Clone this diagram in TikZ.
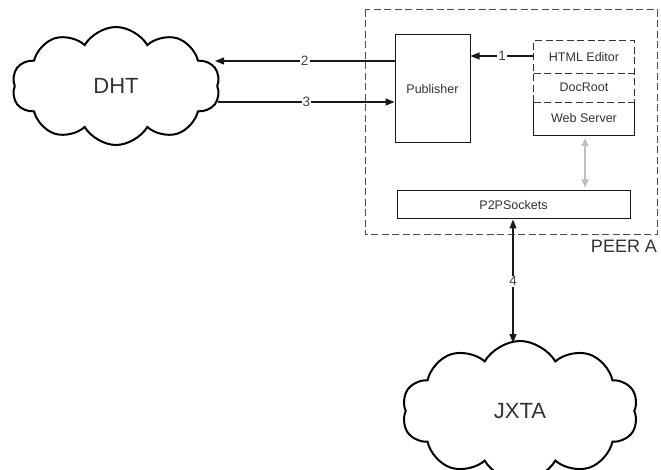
\documentclass[tikz,border=0pt]{standalone}
\usepackage{fontspec}
\setmainfont{Liberation Sans}
\usetikzlibrary{shapes.symbols,arrows.meta}
\begin{document}
\begin{tikzpicture}[x=1pt,y=-1pt,
  box/.style={draw=black!90, line width=1pt, inner sep=0pt, font=\fontsize{12.5}{14}\selectfont, text=black!80},
  plain/.style={inner sep=0pt, font=\fontsize{12.5}{14}\selectfont, text=black!80},
  cloudy/.style={cloud, cloud puffs=10, cloud puff arc=120, draw=black, line width=2pt, inner sep=0pt, font=\fontsize{22}{24}\selectfont, text=black!80},
  conn/.style={line width=1.3pt, draw=black!90, -{Triangle[length=9pt,width=7pt]}},
  lbl/.style={fill=white, inner sep=1pt, font=\fontsize{13.5}{14}\selectfont, text=black!75},
  peer/.style={draw=black!70, line width=1pt, dash pattern=on 7pt off 3.5pt}
]
\useasboundingbox (0,0) rectangle (661,470);
% outer peer box
\draw[peer] (365,10) rectangle (657,235);
\node[plain, font=\fontsize{18}{20}\selectfont] (peerlbl) at (624,246) {PEER A};
% clouds
\node[cloudy, minimum width=208pt, minimum height=118pt] (dht) at (116,86) {DHT};
\node[cloudy, minimum width=236pt, minimum height=140pt] (jxta) at (520,411) {JXTA};
% publisher
\node[box, minimum width=75pt, minimum height=108pt] (pub) at (432.5,89) {Publisher};
% html editor group
\node[plain, minimum width=100pt, minimum height=32pt] (html) at (584,57) {HTML Editor};
\node[plain, minimum width=100pt, minimum height=29pt] (doc) at (584,87.5) {DocRoot};
\node[plain, minimum width=100pt, minimum height=33pt] (web) at (584,118.5) {Web Server};
\draw[peer, draw=black!80] (doc.south west) -- (html.north west) -- (html.north east) -- (doc.south east);
\draw[peer, draw=black!80] (html.south west) -- (html.south east);
\draw[peer, draw=black!80] (doc.south west) -- (doc.south east);
\draw[draw=black!90, line width=1pt] (web.north west) -- (web.south west) -- (web.south east) -- (web.north east);
% p2p sockets
\node[box, minimum width=233pt, minimum height=28pt] (p2p) at (513.5,205) {P2PSockets};
% free ends
\coordinate (d2) at (215,61);
\coordinate (d3) at (218,102);
\coordinate (j4) at (513,343);
% connectors
\draw[conn] (html.west |- 0,56) -- node[lbl] {1} (pub.east |- 0,56);
\draw[conn] (pub.west |- d2) -- node[lbl] {2} (d2);
\draw[conn] (d3) -- node[lbl] {3} (pub.west |- d3);
\draw[conn, {Triangle[length=9pt,width=7pt]}-{Triangle[length=9pt,width=7pt]}] (j4 |- p2p.south) -- node[lbl] {4} (j4);
\draw[line width=1.6pt, draw=black!25, {Triangle[length=8pt,width=7pt]}-{Triangle[length=8pt,width=7pt]}, shorten <=3pt, shorten >=3pt] (web.south -| 585,0) -- (p2p.north -| 585,0);
\end{tikzpicture}
\end{document}
